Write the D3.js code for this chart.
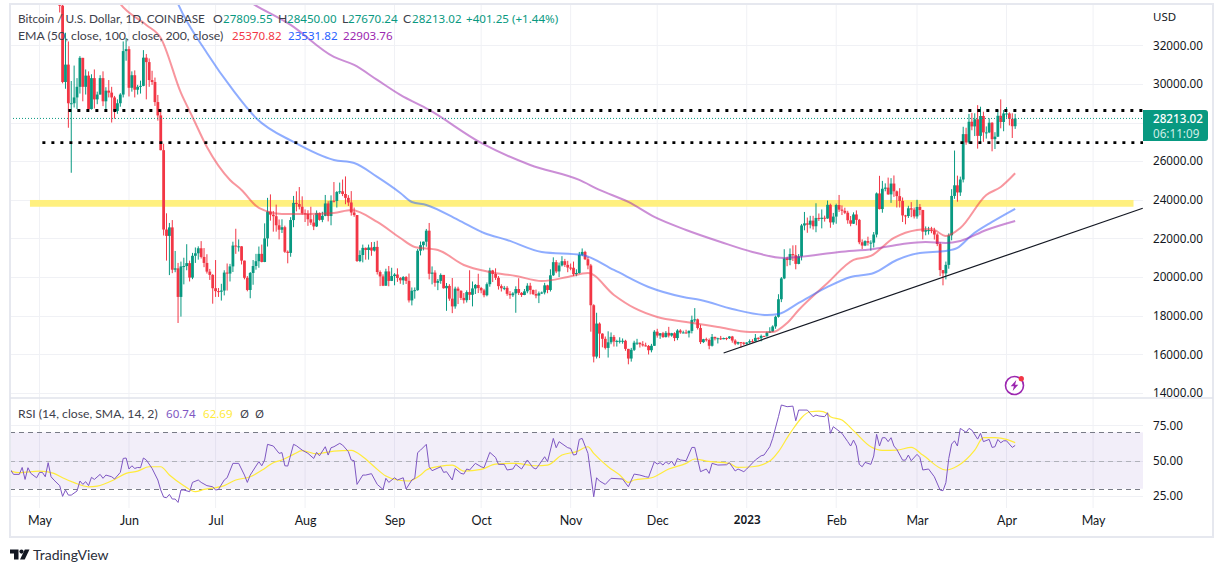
<!DOCTYPE html>
<html><head><meta charset="utf-8">
<script src="https://cdn.jsdelivr.net/npm/d3@7"></script>
<style>
html,body{margin:0;padding:0;background:#fff;overflow:hidden}
svg{display:block}
text{font-family:"Noto Sans",sans-serif}
text.w{font-family:Lato,sans-serif}
</style></head><body>
<svg id="c" width="1223" height="572"></svg>
<script>
// Candles: daily, first candle is 7 days after the 1 May tick; months separated per line
const firstDay = 7;
const opens = [
35470,34050,30100,31000,29000,29000,29300,29850,31350,29850,30430,28700,30300,29200,29450,30300,29100,29650,29550,29300,28600,29000,29450,31700,
31800,29800,30450,29700,29850,29900,31360,31130,30200,30100,29060,28370,26570,22460,22130,22570,20380,20450,18970,20550,20570,20720,19970,21100,21230,21490,21040,20730,20280,20110,
19420,19270,19240,19300,20230,20180,20550,21630,21590,21590,20850,19960,19330,20210,20570,20820,21200,20780,22000,23390,23230,23150,22680,22450,22580,21310,21250,22950,23840,23780,23640,
23300,23270,22990,22820,22620,23310,22960,23170,23810,23160,23950,23940,24400,24440,24300,24100,23860,23340,23210,20830,21140,21510,21400,21530,21370,21560,20260,20030,19550,20290,19800,
20050,20130,19950,19830,20000,19800,18790,19290,19320,21360,21650,21830,22400,20170,20230,19700,19800,20110,19420,19540,18880,18480,19400,19290,18920,18800,19220,19080,19410,19590,
19430,19310,19060,19630,20340,20160,19960,19530,19420,19440,19130,19060,19150,19380,19180,19070,19260,19550,19330,19120,19040,19160,19200,19570,19330,20090,20770,20290,20600,20820,20630,
20490,20480,20150,20210,21150,21300,20920,20600,18540,15880,17590,17070,16800,16330,16620,16900,16660,16690,16700,16700,16280,15780,16230,16600,16600,16520,16460,16430,16210,16440,
17170,16970,17090,16890,17110,16970,17090,16840,17230,17130,17130,17090,17210,17780,17810,17360,16630,16780,16740,16440,16900,16820,16830,16780,16840,16830,16920,16710,16550,16630,16600,
16540,16610,16680,16670,16850,16830,16950,16940,17120,17180,17440,17940,18850,19930,20960,20880,21190,21130,20680,21070,22670,22780,22710,22920,22630,23060,23010,23070,23030,23740,22830,
23130,23730,23490,23430,23330,22940,22760,23240,22960,21800,21630,21860,21780,21780,22200,24330,23520,24570,24630,24280,24840,24440,24190,23940,23190,23160,23560,23490,
23140,23630,23470,22350,22430,22430,22410,22200,21710,20360,20190,20630,22160,24200,24750,24380,25050,27400,26970,28040,27800,28170,27310,28340,27490,27490,27990,27140,27270,28350,28030,
28470,28470,28190,27809.55];
const closes = [
34050,30100,31000,29000,29000,29300,29850,31350,29850,30430,28700,30300,29200,29450,30300,29100,29650,29550,29300,28600,29000,29450,31700,31800,
29800,30450,29700,29850,29900,31360,31130,30200,30100,29060,28370,26570,22460,22130,22570,20380,20450,18970,20550,20570,20720,19970,21100,21230,21490,21040,20730,20280,20110,19420,
19270,19240,19300,20230,20180,20550,21630,21590,21590,20850,19960,19330,20210,20570,20820,21200,20780,22000,23390,23230,23150,22680,22450,22580,21310,21250,22950,23840,23780,23640,23300,
23270,22990,22820,22620,23310,22960,23170,23810,23160,23950,23940,24400,24440,24300,24100,23860,23340,23210,20830,21140,21510,21400,21530,21370,21560,20260,20030,19550,20290,19800,20050,
20130,19950,19830,20000,19800,18790,19290,19320,21360,21650,21830,22400,20170,20230,19700,19800,20110,19420,19540,18880,18480,19400,19290,18920,18800,19220,19080,19410,19590,19430,
19310,19060,19630,20340,20160,19960,19530,19420,19440,19130,19060,19150,19380,19180,19070,19260,19550,19330,19120,19040,19160,19200,19570,19330,20090,20770,20290,20600,20820,20630,20490,
20480,20150,20210,21150,21300,20920,20600,18540,15880,17590,17070,16800,16330,16620,16900,16660,16690,16700,16700,16280,15780,16230,16600,16600,16520,16460,16430,16210,16440,17170,
16970,17090,16890,17110,16970,17090,16840,17230,17130,17130,17090,17210,17780,17810,17360,16630,16780,16740,16440,16900,16820,16830,16780,16840,16830,16920,16710,16550,16630,16600,16540,
16610,16680,16670,16850,16830,16950,16940,17120,17180,17440,17940,18850,19930,20960,20880,21190,21130,20680,21070,22670,22780,22710,22920,22630,23060,23010,23070,23030,23740,22830,23130,
23730,23490,23430,23330,22940,22760,23240,22960,21800,21630,21860,21780,21780,22200,24330,23520,24570,24630,24280,24840,24440,24190,23940,23190,23160,23560,23490,23140,
23630,23470,22350,22430,22430,22410,22200,21710,20360,20190,20630,22160,24200,24750,24380,25050,27400,26970,28040,27800,28170,27310,28340,27490,27490,27990,27140,27270,28350,28030,28470,
28470,28190,27809.55,28213.02];
const highs = [
35500,34250,32650,32200,30150,30950,30300,31440,31350,30750,30650,30500,30750,29600,30450,30650,29830,30200,29850,29380,29200,29520,32200,32380,
31950,30650,30700,29950,30170,31750,31550,31320,30680,30330,29430,28550,26900,23300,22800,22950,21350,20730,20800,21000,21700,20850,21250,21530,21590,21860,21500,21180,20420,20150,
20880,19430,19650,20350,20700,20680,21830,22500,21950,21600,20850,20050,20260,20880,21200,21580,21680,22780,24100,24280,23420,23750,22980,22990,22660,21380,23100,24200,24440,24660,24180,
23500,23460,23640,23220,23450,23340,23380,24250,23930,24230,24920,24450,24890,25050,25210,24240,24450,23600,23210,21380,21680,21530,21680,21810,21820,21880,20340,20140,20430,20570,20480,
20200,20450,20000,20050,20050,20180,19460,19460,21450,21840,21840,22490,22800,20550,20350,19900,20190,20100,19690,19630,19950,19500,19500,19310,19170,19310,20350,19770,19640,20170,
19490,19390,19720,20480,20370,20450,20050,19620,19540,19530,19270,19220,19520,19940,19220,19380,19680,19700,19350,19350,19250,19250,19700,19600,20400,21020,20880,20750,21080,20940,20840,
20700,20800,20400,21300,21480,21360,21050,20680,18590,18150,17650,17090,16920,17190,17130,17000,16750,16880,16820,16750,16280,16330,16700,16800,16610,16680,16600,16480,16540,17250,
17320,17100,17160,17200,17420,17110,17140,17300,17300,17220,17270,17240,18000,18390,17850,17530,16800,16860,16820,17050,16910,16860,16950,16860,16870,16940,16950,16780,16650,16630,16640,
16630,16770,16780,17050,16880,17020,16960,17180,17400,17500,18000,19110,20000,21440,21050,21480,21640,21650,21190,22750,23370,23080,23170,23170,23820,23290,23500,23180,23960,23800,23320,
23800,24250,23710,23590,23430,23160,23350,23450,23010,21950,21900,22090,21900,22330,24380,25240,24980,24850,25150,25120,25260,24480,24600,24120,23220,23690,23880,23600,
24000,23780,23480,22620,22600,22600,22550,22270,21800,20360,20800,22260,24550,26550,25250,25200,27780,27730,28450,28500,28480,28900,28820,28560,27800,28220,28020,27500,28650,29200,28650,
28800,28530,28480,28450];
const lows = [
33700,30030,29750,27730,25400,28780,28700,29500,29100,29450,28650,28670,28730,28950,29450,28850,28650,29300,28000,28200,28450,28820,29300,31200,
29350,29600,29300,29450,29500,29880,29200,29850,29950,28860,28100,26560,22150,20850,20100,20200,20250,17620,17950,19620,20350,19770,19890,20730,20900,20960,20510,20180,19850,18620,
18970,18970,18780,19050,19300,19770,20260,21200,21320,20650,19880,19260,18900,19600,20380,20480,20760,20770,21580,22920,22350,22350,21950,22280,21250,20710,21050,22580,23400,23500,23230,
22850,22650,22700,22430,22590,22920,22840,23150,22880,22680,23860,23600,24300,24190,23770,23680,23180,23120,20780,20770,20760,20900,20900,21100,21320,20130,19530,19530,19550,19520,19790,
19570,19750,19650,19600,19640,18680,18530,18880,19290,21120,21380,21570,19880,19620,19500,19320,19650,19400,18250,18770,18130,18360,18600,18810,18630,18680,18810,18480,19120,19170,
19160,18950,19000,19500,19740,19850,19350,19250,19320,19030,18870,18970,18150,19070,18970,19060,19160,19100,19070,18900,18650,19120,19100,19160,19250,20050,20200,20000,20550,20520,20250,
20350,20050,20040,20170,21080,20880,20400,17170,15580,15780,15800,16360,16250,15830,16520,16400,16400,16560,16550,16180,15480,15620,16170,16480,16350,16400,16400,15990,16100,16430,
16860,16800,16850,16870,16870,16910,16680,16730,17060,17090,17070,16870,17080,17660,17280,16530,16580,16660,16260,16400,16720,16560,16740,16780,16730,16790,16600,16470,16490,16340,16470,
16490,16550,16600,16650,16750,16670,16910,16910,17100,17150,17320,17900,18700,19890,20560,20610,20830,20400,20660,20860,22420,22290,22520,22460,22320,22900,22520,22870,23020,22550,22710,
22760,23370,23210,23260,22760,22630,22750,22680,21700,21450,21600,21630,21370,21530,22050,23500,23330,24440,24260,23840,24150,23600,23600,22850,22730,23060,23100,23030,
23020,23200,21950,22160,22200,22270,21940,21600,20050,19570,19880,20430,21900,24050,23900,24200,24900,26850,26900,27600,27300,26650,26950,27000,27170,27450,26510,26630,27250,27700,27550,
28250,27850,27200,27670];

// Moving averages, read at (day, price) points; points above the frame are clipped
const ema50Days = [21,28,37,42,49,53,58,66,70,76,84,93,102,108,117,125,130,138,147,156,165,174,183,190,199,206,214,224,235,246,254,259,263,273,282,288,296,304,309,314,319,328,333,338];
const ema50Vals = [35900,34142,33054,32382,29533,28290,26736,25027,24509,23577,23266,23266,23318,23473,22852,22023,21557,21402,20625,20262,20055,19796,20003,20210,19071,18398,17932,17673,17414,17155,17155,17621,18294,19693,20884,21091,22023,22438,22490,22127,22541,24250,24664,25371];
const ema100Days = [44,48,58,67,75,88,102,109,117,125,129,134,145,154,162,174,188,199,211,223,229,240,252,256,263,273,281,289,297,305,314,318,323,330,338];
const ema100Vals = [35640,34142,31603,29688,28238,26995,26063,25907,25182,24354,23888,23733,22956,22282,21920,21298,21143,20366,19486,18967,18812,18346,18035,18087,18657,19486,20003,20210,20884,21246,21350,21506,22178,22852,23532];
const ema200Days = [64,74,87,102,109,117,125,135,153,170,187,194,204,213,224,236,247,258,263,277,289,299,307,314,319,328,338];
const ema200Vals = [35090,34142,33054,31397,30983,30206,29429,28652,26943,25803,25027,24509,23888,23111,22438,21816,21298,20987,21039,21298,21453,21712,21816,21765,21868,22438,22904];

// RSI pane, read at (day, value) points
const rsiDays = [-10,-9,-7,-6,-5,-4,-3,-1,0,1,2,3,4,5,7,8,9,10,11,13,14,15,16,17,18,19,21,22,23,25,26,28,29,30,31,32,33,34,35,36,37,39,41,42,43,44,45,46,47,48,49,50,52,53,55,56,58,60,61,62,64,65,67,69,71,72,73,75,76,77,78,79,81,83,84,85,86,87,88,89,91,93,95,96,97,99,100,101,102,104,105,107,108,109,110,112,113,115,117,119,120,121,123,124,126,127,129,130,131,132,
134,135,136,139,140,141,143,144,146,147,148,149,151,153,154,156,158,159,161,162,164,165,167,169,171,172,173,175,176,178,179,180,183,184,185,186,187,188,190,192,193,194,196,198,202,204,206,208,210,211,213,214,215,216,217,218,219,220,221,222,224,226,227,229,231,232,233,235,238,239,241,242,244,245,248,250,251,253,254,256,257,259,261,262,263,266,268,269,270,
272,273,274,275,277,278,280,281,282,283,284,285,286,288,289,290,291,292,293,294,295,296,297,299,300,301,302,304,305,306,308,310,312,313,314,315,316,317,318,319,321,322,323,325,326,327,329,330,331,332,333,334,335,337,338];
const rsiVals = [43.3,40.2,40.2,45.1,36.6,44.9,40.9,37.8,41.6,41.6,38.5,48.5,38.5,36.2,32.2,24.6,29.1,25.5,25.5,28.4,35.5,33.1,35,32.2,38.1,36.6,40.2,37.4,39.7,38.5,36.9,41.6,51.5,51.8,44,46.3,44.4,45.1,44.9,51.8,50.4,44.4,36.2,29.1,24.1,23.6,26,22.7,22.7,20.3,29.1,29.1,27.9,34.5,36.2,34.5,32.2,31.4,29.1,29.5,36.2,37.8,48,48,39.7,34.5,39.7,46.1,49.2,46.3,50.4,61.5,60.3,55.1,55.6,46.3,46.1,53.9,61.5,60.5,57.4,55.1,51.5,55.8,53.4,59.8,53.9,59.1,59.8,62.2,61,56.3,50.4,49.9,33.1,39.7,39.7,40.7,33.1,29.5,37.4,34.5,37.8,36.2,37.8,29.8,36.2,37.4,55.6,57.4,
61.5,45.6,42.8,45.6,41.6,42.1,36.2,44.4,40.9,40.4,44,43.3,48,45.6,44.9,55.8,52.2,47.3,47.3,43.3,44,47.3,44,50.4,44.9,44,46.8,52.7,49.2,65.7,59.1,63.4,59.1,58.6,53.9,54.4,65,65.7,55.1,24.3,37.8,35.5,33.1,37.4,36.9,31.4,40.4,39.7,38.5,38.1,49.2,47.5,48.5,46.8,49.2,47.5,49.6,46.3,51.5,50.4,49.9,59.3,59.3,42.1,44,40.9,48,46.8,47,48.5,42.6,44,42.1,44,50.4,53.4,53.9,59.8,65.7,81.1,89.4,88.2,88.6,78.2,85.8,85.8,81.1,82.3,81.6,
81.1,83.9,69.3,74,70.9,69.3,63.4,60.3,64.5,60.3,47.3,45.6,48.7,47.3,53.2,68.6,60.3,66.2,66.2,63.4,66.2,60.3,57.9,50.3,50.3,53.9,49.9,54.4,52.2,43.3,44,38.5,29.1,28.6,34.3,51.5,61.7,64,60.3,72.8,70,72.8,71.6,65.2,69.3,63.4,65,59.3,59.8,65,62.6,64,64,59.3,60.74];
const rsiMaDays = [-10,-7,0,5,8,12,17,20,26,30,34,38,42,45,50,54,57,64,68,73,78,81,84,88,91,96,102,108,112,116,120,124,128,132,134,139,143,147,153,158,165,172,176,181,186,190,192,197,201,204,206,212,218,224,227,231,239,242,247,253,256,260,267,270,273,274,278,282,288,292,297,302,306,314,318,324,327,331,335,338];
const rsiMaVals = [42.5,41.4,42.5,40.9,37.8,34.3,31.4,31.9,36.6,40.9,42.5,45.6,45.6,39.7,32.2,27.9,29.5,32.2,36.2,38.5,44.4,48.5,50.4,54.4,57,54.8,56.7,57.2,52.7,45.6,39,36.2,35.5,39.7,43.3,46.1,46.8,42.5,43.7,47.5,48,46.3,46.8,53.9,56.3,59.8,55.1,45.6,39.7,34.5,36.2,37.8,44,48,51.1,49.6,48,45.1,45.6,49.6,56.3,69.3,84.6,85.1,83.4,81.1,78.7,71.2,59.8,57.2,57.4,59.3,53.9,43.3,46.1,57.4,66.2,66.2,65,62.69];

// Drawings
const levelUpper = 28625, levelUpperFromDay = 10;
const levelLower = 26965, levelLowerFromDay = 1;
const bandTop = 23990, bandBottom = 23640, bandFromDay = -3.3, bandToDay = 379;
const trendDays = [237, 382.2], trendVals = [16067, 23560];
const lastPrice = 28213.02;

// Ticks
const priceTicks = [14000,16000,18000,20000,22000,24000,26000,28000,30000,32000];
const priceTickLabels = [14000,16000,18000,20000,22000,24000,26000,null,30000,32000];
const rsiTicks = [25,50,75];
const monthDays = [0,31,61,92,123,153,184,214,245,276,304,335,365];
const monthLabels = ["May","Jun","Jul","Aug","Sep","Oct","Nov","Dec","2023","Feb","Mar","Apr","May"];

// Text: [string, x, colour, size when set in the wordy face]
const legend1 = [["Bitcoin / U.S. Dollar, 1D, COINBASE",18,"#3d404a",11.8],["O",213,"#3d404a",12.2],["27809.55",223,"#089981"],["H",278,"#3d404a",12.2],["28450.00",287,"#089981"],["L",342,"#3d404a",12.2],["27670.24",348,"#089981"],["C",403,"#3d404a",12.2],["28213.02",412,"#089981"],["+401.25 (+1.44%)",466,"#089981"]];
const legend2 = [["EMA (50, close, 100, close, 200, close)",18,"#3d404a",12.3],["25370.82",232,"#f23645"],["23531.82",288,"#2962ff"],["22903.76",343,"#9c27b0"]];
const legend3 = [["RSI (14, close, SMA, 14, 2)",18,"#3d404a",12.2],["60.74",166,"#7e57c2"],["62.69",203,"#ffeb3b"],["Ø",240,"#3d404a"],["Ø",255,"#3d404a"]];

const UP="#089981", DOWN="#f23645", GRID="#f0f1f5", BORDER="#e6e8ef";
const frame={l:10,t:4,r:1143,b:398,rb:508,w:1213,h:537};
const x=d3.scaleLinear().domain([0,335]).range([39.5,1006.5]);
const y=d3.scaleLinear().domain([14000,32000]).range([392.9,45.3]);
const yr=d3.scaleLinear().domain([25,75]).range([495.8,425.3]);
const svg=d3.select("#c");
const defs=svg.append("defs");
defs.append("clipPath").attr("id","cp").append("rect").attr("x",frame.l).attr("y",frame.t).attr("width",frame.r-frame.l).attr("height",frame.b-frame.t);
defs.append("clipPath").attr("id","cr").append("rect").attr("x",frame.l).attr("y",frame.b).attr("width",frame.r-frame.l).attr("height",frame.rb-frame.b);

// Grid
const g0=svg.append("g");
g0.selectAll("line.v").data(monthDays).join("line").attr("x1",d=>x(d)).attr("x2",d=>x(d)).attr("y1",frame.t).attr("y2",frame.rb).attr("stroke",GRID);
g0.selectAll("line.h").data(priceTicks).join("line").attr("x1",frame.l).attr("x2",frame.r).attr("y1",d=>Math.round(y(d))+.5).attr("y2",d=>Math.round(y(d))+.5).attr("stroke",GRID);
g0.selectAll("line.r").data(rsiTicks).join("line").attr("x1",frame.l).attr("x2",frame.r).attr("y1",d=>Math.round(yr(d))+.5).attr("y2",d=>Math.round(yr(d))+.5).attr("stroke",GRID);

// Price pane
const p=svg.append("g").attr("clip-path","url(#cp)");
p.append("rect").attr("x",x(bandFromDay)).attr("y",y(bandTop)).attr("width",x(bandToDay)-x(bandFromDay)).attr("height",y(bandBottom)-y(bandTop)).attr("fill","#fff07f");
const days=d3.range(closes.length).map(i=>i+firstDay);
const idx=d3.range(closes.length);
p.append("g").selectAll("line").data(idx).join("line")
 .attr("x1",i=>x(days[i])).attr("x2",i=>x(days[i])).attr("y1",i=>y(highs[i])).attr("y2",i=>y(lows[i]))
 .attr("stroke",i=>closes[i]>=opens[i]?UP:DOWN).attr("stroke-width",1);
p.append("g").selectAll("rect").data(idx).join("rect")
 .attr("x",i=>x(days[i])-1.4).attr("width",2.8)
 .attr("y",i=>y(Math.max(opens[i],closes[i])))
 .attr("height",i=>Math.max(1,Math.abs(y(opens[i])-y(closes[i]))))
 .attr("fill",i=>closes[i]>=opens[i]?UP:DOWN);
const priceLine=(ds,vs,c)=>p.append("path").attr("d",d3.line().x((d,i)=>x(ds[i])).y(d=>y(d)).curve(d3.curveMonotoneX)(vs)).attr("fill","none").attr("stroke",c).attr("stroke-width",2).attr("stroke-linejoin","round").attr("opacity",.52);
priceLine(ema50Days,ema50Vals,"#f23645");
priceLine(ema100Days,ema100Vals,"#2962ff");
priceLine(ema200Days,ema200Vals,"#9c27b0");
p.append("path").attr("d",d3.line().x((d,i)=>x(trendDays[i])).y(d=>y(d))(trendVals)).attr("stroke","#131722").attr("stroke-width",1.2).attr("fill","none");
p.append("line").attr("x1",frame.l).attr("x2",frame.r).attr("y1",y(lastPrice)).attr("y2",y(lastPrice)).attr("stroke",UP).attr("stroke-dasharray","1 2");
[[levelUpper,levelUpperFromDay],[levelLower,levelLowerFromDay]].forEach(([v,d])=>p.append("line").attr("x1",x(d)).attr("x2",frame.r).attr("y1",y(v)).attr("y2",y(v)).attr("stroke","#000").attr("stroke-width",2.8).attr("stroke-dasharray","3 6"));

// RSI pane
const r=svg.append("g").attr("clip-path","url(#cr)");
r.append("rect").attr("x",frame.l).attr("y",yr(70)).attr("width",frame.r-frame.l).attr("height",yr(30)-yr(70)).attr("fill","#7e57c2").attr("opacity",.1);
[[70,"#787b86"],[50,"#b0b2ba"],[30,"#787b86"]].forEach(([v,c])=>r.append("line").attr("x1",frame.l).attr("x2",frame.r).attr("y1",Math.round(yr(v))+.5).attr("y2",Math.round(yr(v))+.5).attr("stroke",c).attr("stroke-dasharray","5 4"));
r.append("path").attr("d",d3.line().x((d,i)=>x(rsiMaDays[i])).y(d=>yr(d)).curve(d3.curveMonotoneX)(rsiMaVals)).attr("fill","none").attr("stroke","#ffeb3b").attr("stroke-width",1.2);
r.append("path").attr("d",d3.line().x((d,i)=>x(rsiDays[i])).y(d=>yr(d))(rsiVals)).attr("fill","none").attr("stroke","#7e57c2").attr("stroke-width",1);

// Frame
svg.append("path").attr("d",`M${frame.l} ${frame.t}H${frame.w}V${frame.h}H${frame.l}Z`).attr("fill","none").attr("stroke",BORDER).attr("stroke-width",2);
svg.append("line").attr("x1",frame.l).attr("x2",frame.w).attr("y1",frame.b).attr("y2",frame.b).attr("stroke","#e0e3eb").attr("stroke-width",1.5);

// Axes
const styleAxis=s=>{s.select(".domain").remove();s.selectAll("line").remove();s.selectAll("text").attr("fill","#131722").attr("font-size",11.7);};
svg.append("g").attr("transform",`translate(1153,0)`).call(d3.axisRight(y).tickValues(priceTickLabels.filter(d=>d!==null)).tickSize(0).tickPadding(0).tickFormat(d3.format(".2f"))).call(styleAxis);
svg.append("g").attr("transform",`translate(1153,0)`).call(d3.axisRight(yr).tickValues(rsiTicks).tickSize(0).tickPadding(0).tickFormat(d3.format(".2f"))).call(styleAxis);
svg.append("g").attr("transform",`translate(0,516)`).call(d3.axisBottom(x).tickValues(monthDays).tickSize(0).tickPadding(0).tickFormat((d,i)=>monthLabels[i])).call(styleAxis)
  .selectAll("text").attr("class",(d,i)=>monthLabels[i]==="2023"?null:"w").attr("font-size",(d,i)=>monthLabels[i]==="2023"?11.7:12.5).attr("font-weight",(d,i)=>monthLabels[i]==="2023"?600:400);
svg.append("text").attr("x",1153).attr("y",21).attr("font-size",11.5).attr("fill","#131722").text("USD");

// Last price tag
svg.append("path").attr("d","M1143 110H1205a3 3 0 0 1 3 3V138a3 3 0 0 1 -3 3H1143Z").attr("fill",UP);
svg.append("text").attr("x",1153).attr("y",123).attr("font-size",11.7).attr("font-weight",500).attr("fill","#fff").text(d3.format(".2f")(lastPrice));
svg.append("text").attr("x",1153).attr("y",137.5).attr("font-size",11.7).attr("fill","#cfeee7").text("06:11:09");

// Legends
const leg=(rows,yy)=>svg.append("g").selectAll("text").data(rows).join("text").attr("class",d=>d[3]?"w":null).attr("x",d=>d[1]).attr("y",yy).attr("font-size",d=>d[3]||11.6).attr("fill",d=>d[2]).text(d=>d[0]);
leg(legend1,23);leg(legend2,39.5);leg(legend3,418);

// Event icon
const ic=svg.append("g").attr("transform","translate(1014.5,385.5)");
ic.append("circle").attr("r",9).attr("fill","#fff").attr("stroke","#9c27b0").attr("stroke-width",1.6);
ic.append("path").attr("d","M1.8 -5.5L-3.8 0.8H-0.6L-1.8 5.5L3.8 -0.8H0.6Z").attr("fill","#9c27b0");
ic.append("circle").attr("cx",6.8).attr("cy",-6.8).attr("r",2.6).attr("fill","#f23645");

// Brand
const b=svg.append("g").attr("fill","#131722");
b.append("path").attr("d","M10 549.5H18.5V559.5H14V553.5H10Z");
b.append("circle").attr("cx",21.5).attr("cy",551.6).attr("r",2.1);
b.append("path").attr("d","M24.8 549.5H29.5L24.7 559.5H20Z");
b.append("text").attr("class","w").attr("x",33).attr("y",559.5).attr("font-size",14).attr("fill","#2a2e39").text("TradingView");
</script>
</body></html>
